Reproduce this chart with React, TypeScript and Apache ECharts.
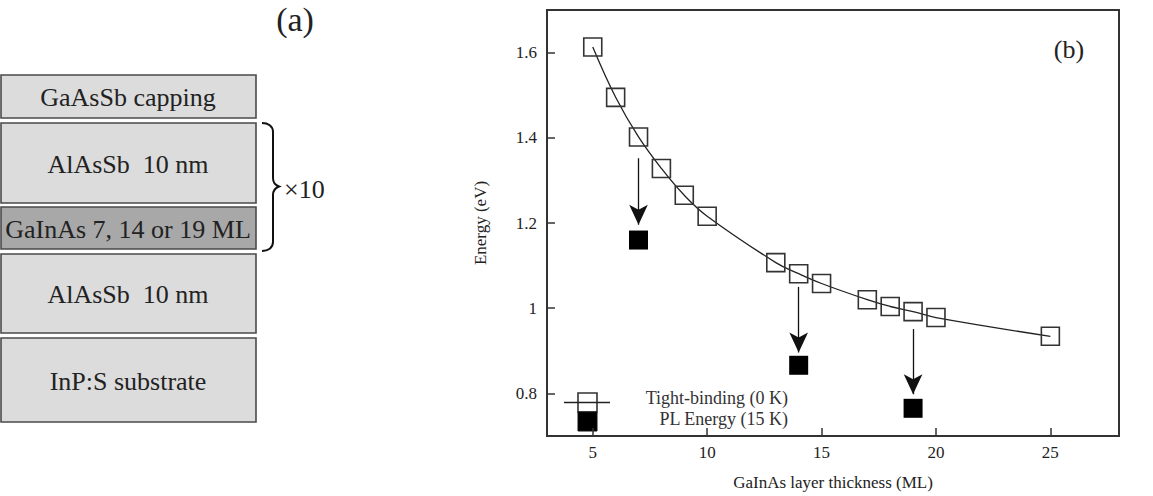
import React, { useEffect, useRef } from "react";
import * as echarts from "echarts";

// ---- data ----
const tbThickness = [5, 6, 7, 8, 9, 10, 13, 14, 15, 17, 18, 19, 20, 25];
const tbEnergy = [1.613, 1.495, 1.402, 1.328, 1.265, 1.216, 1.107, 1.081, 1.058, 1.02, 1.004, 0.992, 0.978, 0.934];
const plThickness = [7, 14, 19];
const plEnergy = [1.16, 0.866, 0.765];
const arrowThickness = [7, 14, 19];
const arrowFrom = [1.352, 1.05, 0.951];
const arrowTo = [1.196, 0.896, 0.798];
const xTicks = [5, 10, 15, 20, 25];
const yTicks = [0.8, 1.0, 1.2, 1.4, 1.6];
const layerLabels = ["GaAsSb capping", "AlAsSb  10 nm", "GaInAs 7, 14 or 19 ML", "AlAsSb  10 nm", "InP:S substrate"];
const legendLabels = ["Tight-binding (0 K)", "PL Energy (15 K)"];
const panelLabels = ["(a)", "(b)"];
const repeatLabel = "×10";
const xAxisName = "GaInAs layer thickness (ML)";
const yAxisName = "Energy (eV)";

const FONT = "Liberation Serif";

echarts.graphic.registerShape(
  "brace",
  echarts.graphic.extendPath(
    "M0 0 C6 0 11 3 11 9 L11 55 C11 60 13 62 17 63.5 C13 65 11 67 11 72 L11 119 C11 125 6 128 0 128",
    {}
  )
);

function txt(x: number, y: number, text: string, size: number, align: string, fill = "#222") {
  return {
    type: "text",
    x,
    y,
    style: {
      text,
      fontFamily: FONT,
      fontSize: size,
      fill,
      align,
      verticalAlign: "middle",
    },
  };
}

export default function App() {
  const ref = useRef<HTMLDivElement>(null);
  useEffect(() => {
    if (!ref.current) return;
    const chart = echarts.init(ref.current, null, { renderer: "svg" });

    const layerBoxes = [
      { y: 75, h: 43, fill: "#dcdcdc" },
      { y: 123, h: 80, fill: "#dcdcdc" },
      { y: 207, h: 42, fill: "#a8a8a8" },
      { y: 254, h: 79, fill: "#dcdcdc" },
      { y: 338, h: 84, fill: "#dcdcdc" },
    ];
    const graphics: any[] = [];
    layerBoxes.forEach((b, i) => {
      graphics.push({
        type: "rect",
        shape: { x: 1, y: b.y, width: 255, height: b.h },
        style: { fill: b.fill, stroke: "#4a4a4a", lineWidth: 1.6 },
      });
      graphics.push(txt(128, b.y + b.h / 2 + 1, layerLabels[i], 26, "center"));
    });
    graphics.push({
      type: "brace",
      x: 262,
      y: 123,
      style: { fill: "none", stroke: "#111", lineWidth: 2 },
    });
    graphics.push(txt(284, 189, repeatLabel, 26, "left"));
    graphics.push(txt(295, 19, panelLabels[0], 34, "center"));
    graphics.push(txt(1069, 49, panelLabels[1], 26, "center"));
    // legend
    graphics.push({
      type: "rect",
      shape: { x: 578, y: 393, width: 19, height: 19 },
      style: { fill: "none", stroke: "#333", lineWidth: 1.6 },
    });
    graphics.push({
      type: "line",
      shape: { x1: 564, y1: 402.5, x2: 610, y2: 402.5 },
      style: { stroke: "#222", lineWidth: 1.3 },
    });
    graphics.push({
      type: "rect",
      shape: { x: 578, y: 412, width: 19, height: 19 },
      style: { fill: "#000", stroke: "#111", lineWidth: 1 },
    });
    legendLabels.forEach((t, i) => {
      graphics.push(txt(788, 398 + i * 21, t, 18, "right", "#333"));
    });

    const axisText = { color: "#222", fontFamily: FONT, fontSize: 17 };

    chart.setOption({
      animation: false,
      backgroundColor: "#fff",
      grid: {
        left: 547,
        top: 10,
        right: 34,
        bottom: 57,
        show: true,
        borderColor: "#333",
        borderWidth: 2,
        backgroundColor: "transparent",
      },
      xAxis: {
        type: "value",
        min: 3,
        max: 28,
        name: xAxisName,
        nameLocation: "middle",
        nameGap: 38,
        nameTextStyle: axisText,
        axisLine: { show: true, onZero: false, lineStyle: { color: "#333", width: 2 } },
        axisTick: { show: true, inside: true, length: 8, customValues: xTicks, lineStyle: { color: "#333", width: 1.5 } },
        axisLabel: { ...axisText, margin: 8, customValues: xTicks },
        splitLine: { show: false },
      },
      yAxis: {
        type: "value",
        min: 0.7,
        max: 1.7,
        name: yAxisName,
        nameLocation: "middle",
        nameGap: 58,
        nameRotate: 90,
        nameTextStyle: axisText,
        axisLine: { show: true, onZero: false, lineStyle: { color: "#333", width: 2 } },
        axisTick: { show: true, inside: true, length: 8, customValues: yTicks, lineStyle: { color: "#333", width: 1.5 } },
        axisLabel: {
          ...axisText,
          margin: 10,
          customValues: yTicks,
          formatter: (v: number) => String(Number(v.toFixed(1))),
        },
        splitLine: { show: false },
      },
      series: [
        {
          type: "line",
          name: "fit",
          smooth: 0.4,
          symbol: "none",
          data: tbThickness.map((x, i) => [x, tbEnergy[i]]),
          lineStyle: { color: "#222", width: 1.3 },
          z: 2,
        },
        {
          type: "scatter",
          name: legendLabels[0],
          symbol: "rect",
          symbolSize: 18,
          data: tbThickness.map((x, i) => [x, tbEnergy[i]]),
          itemStyle: { color: "rgba(0,0,0,0)", borderColor: "#333", borderWidth: 1.6, opacity: 1 },
          z: 3,
        },
        {
          type: "scatter",
          name: legendLabels[1],
          symbol: "rect",
          symbolSize: 19,
          data: plThickness.map((x, i) => [x, plEnergy[i]]),
          itemStyle: { color: "#000", opacity: 1 },
          z: 3,
          markLine: {
            silent: true,
            symbol: ["none", "arrow"],
            symbolSize: [14, 20],
            label: { show: false },
            lineStyle: { color: "#111", width: 1.3, type: "solid", opacity: 1 },
            itemStyle: { color: "#111" },
            data: arrowThickness.map((x, i) => [{ coord: [x, arrowFrom[i]] }, { coord: [x, arrowTo[i]] }]),
          },
        },
      ],
      graphic: graphics,
    });
    return () => chart.dispose();
  }, []);

  return (
    <div
      ref={ref}
      style={{ position: "fixed", left: 0, top: 0, width: 1153, height: 496, background: "#fff" }}
    />
  );
}
